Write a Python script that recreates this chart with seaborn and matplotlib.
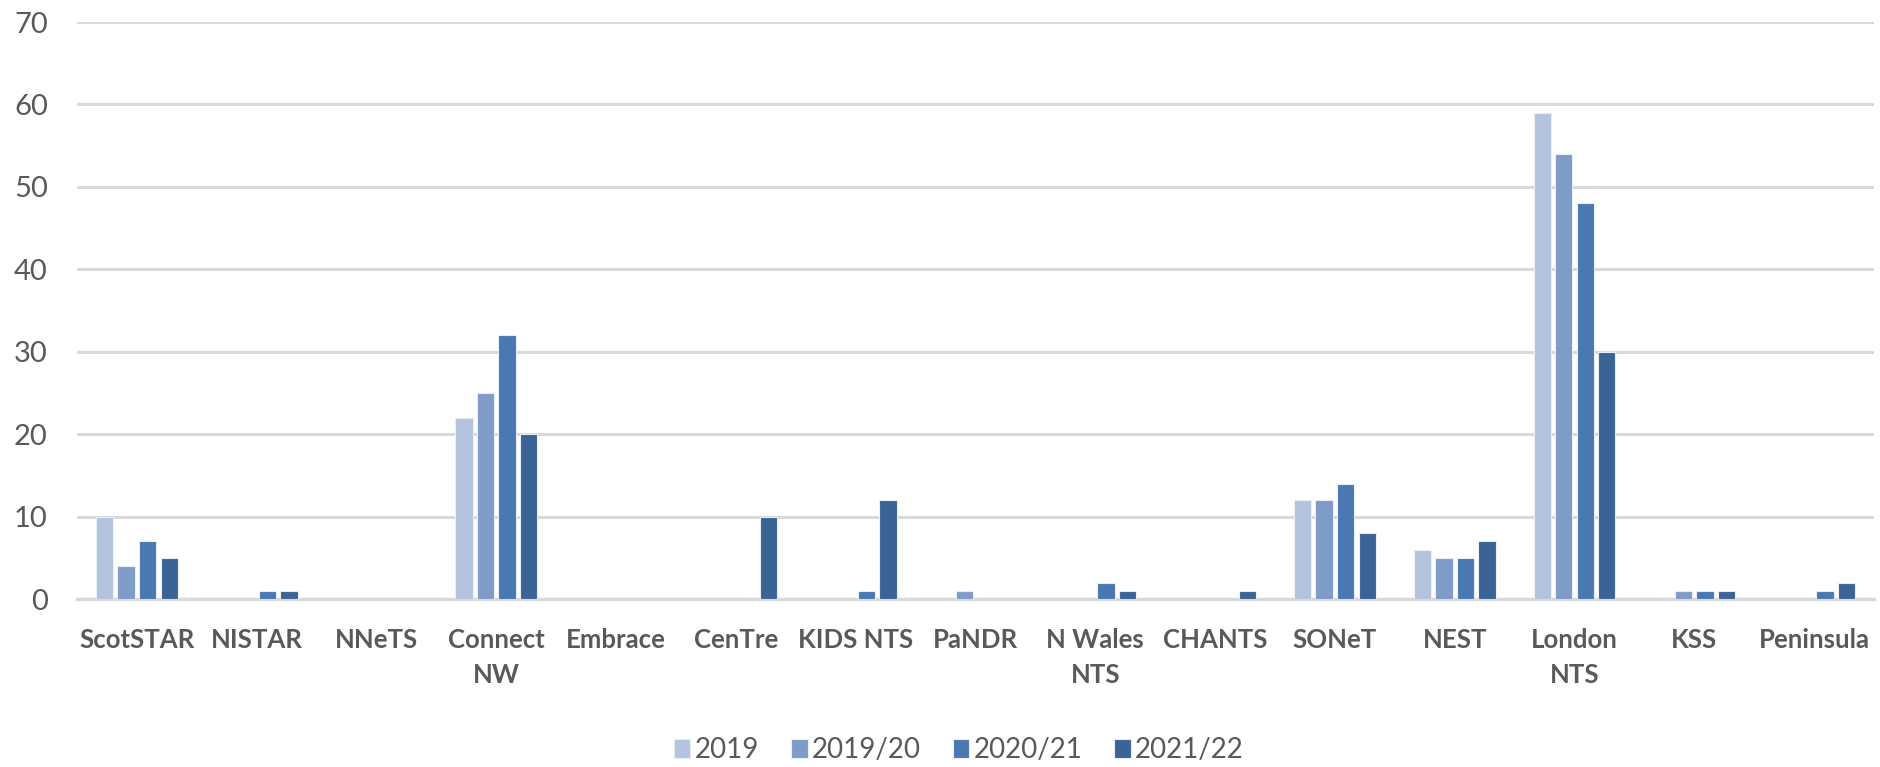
import pandas as pd
import matplotlib.pyplot as plt
import seaborn as sns

# Transport services and yearly counts
SERVICES = ['ScotSTAR', 'NISTAR', 'NNeTS', 'Connect\nNW', 'Embrace', 'CenTre',
            'KIDS NTS', 'PaNDR', 'N Wales\nNTS', 'CHANTS', 'SONeT', 'NEST',
            'London\nNTS', 'KSS', 'Peninsula']
YEARS = ['2019', '2019/20', '2020/21', '2021/22']

VALS_2019 = [10, 0, 0, 22, 0, 0, 0, 0, 0, 0, 12, 6, 59, 0, 0]
VALS_2019_20 = [4, 0, 0, 25, 0, 0, 0, 1, 0, 0, 12, 5, 54, 1, 0]
VALS_2020_21 = [7, 1, 0, 32, 0, 0, 1, 0, 2, 0, 14, 5, 48, 1, 1]
VALS_2021_22 = [5, 1, 0, 20, 0, 10, 12, 0, 1, 1, 8, 7, 30, 1, 2]

COLORS = ['#b4c4df', '#7f9cc8', '#4a78b0', '#3b6395']
TEXT_GRAY = '#595959'

rows = []
for year, vals in zip(YEARS, [VALS_2019, VALS_2019_20, VALS_2020_21, VALS_2021_22]):
    for svc, v in zip(SERVICES, vals):
        rows.append({'Service': svc, 'Year': year, 'Count': v})
df = pd.DataFrame(rows)

sns.set_style("white")
plt.rcParams['font.family'] = ['Lato', 'DejaVu Sans']

fig = plt.figure(figsize=(18.8, 7.67), dpi=100)
ax = fig.add_axes([77 / 1880, 1 - 599 / 767, (1874 - 77) / 1880, (599 - 22) / 767])

sns.barplot(data=df, x='Service', y='Count', hue='Year', order=SERVICES,
            hue_order=YEARS, palette=COLORS, saturation=1, width=0.72, gap=0.2,
            edgecolor='#e8eef7', linewidth=0.8, ax=ax, zorder=3)

ax.set_ylim(0, 70)
ax.set_yticks(range(0, 71, 10))
ax.set_xlim(-0.5, len(SERVICES) - 0.5)
ax.grid(axis='y', color='#d9d9d9', linewidth=2.2, zorder=0)
ax.set_axisbelow(True)
for s in ['top', 'right', 'left']:
    ax.spines[s].set_visible(False)
ax.spines['bottom'].set_color('#d9d9d9')
ax.spines['bottom'].set_linewidth(2.5)

ax.tick_params(axis='both', length=0)
ax.tick_params(axis='y', labelsize=21, labelcolor=TEXT_GRAY, pad=21)
ax.tick_params(axis='x', labelsize=18.5, labelcolor=TEXT_GRAY, pad=21)
for lbl in ax.get_xticklabels():
    lbl.set_fontweight('bold')
    lbl.set_linespacing(1.55)
ax.set_xlabel('')
ax.set_ylabel('')

handles, labels = ax.get_legend_handles_labels()
ax.get_legend().remove()
leg = fig.legend(handles, labels, loc='center', bbox_to_anchor=(0.51, 0.022),
                 ncol=4, frameon=False, fontsize=20, handlelength=0.6,
                 handleheight=0.7, handletextpad=0.15, columnspacing=1.15)
for t in leg.get_texts():
    t.set_color(TEXT_GRAY)

fig.savefig('out.png', dpi=100)
